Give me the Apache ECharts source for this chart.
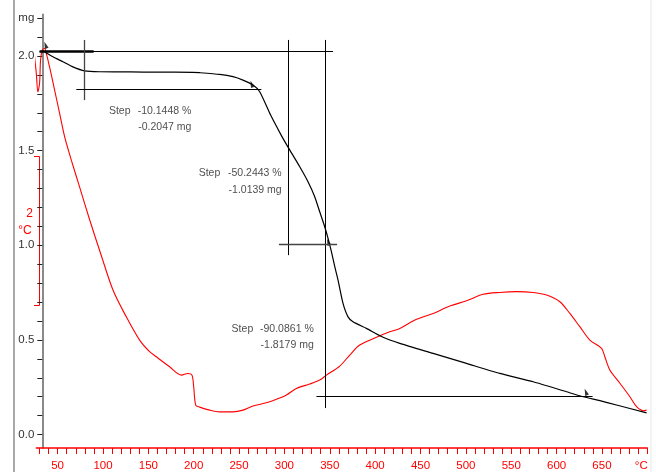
<!DOCTYPE html>
<html><head><meta charset="utf-8">
<script src="https://cdn.jsdelivr.net/npm/echarts@6/dist/echarts.min.js"></script>
<style>html,body{margin:0;padding:0;background:#fff}#c{width:656px;height:472px}</style>
</head><body><div id="c"></div>
<script>
// ---- data ----
const tgTemp = [33.7,44.8,55.8,66.8,79.7,96.3,130,160,198.9,206.6,228.6,243.3,254.3,265.4,272.8,284.8,297.0,305.8,316.9,326.0,333.4,338.9,344.4,348.1,351.8,355.5,359.1,364.6,370.1,375.6,390.4,408.7,427.2,463.9,500.7,537.4,574.2,611.0,629.3,647.7,666.1,699.2];
const tgMass = [2.028,1.996,1.970,1.943,1.922,1.917,1.916,1.915,1.914,1.912,1.903,1.891,1.873,1.847,1.811,1.688,1.577,1.504,1.415,1.336,1.257,1.177,1.098,1.037,0.966,0.887,0.816,0.693,0.622,0.596,0.561,0.514,0.482,0.429,0.376,0.323,0.279,0.226,0.200,0.179,0.156,0.115];

const dtaTemp = [22.9,24.6,26.5,28.2,30.1,31.2,33.1,35.6,37.5,41.1,46.7,52.2,57.7,65.1,74.2,85.3,98.2,111.0,125.7,140.4,151.4,158.8,173.5,186.4,193.7,198.1,200.0,202.2,206.6,217.6,228.6,243.3,254.3,265.4,280.1,291.2,302.2,313.2,327.9,338.9,346.3,361.0,372.0,383.0,401.5,416.1,427.2,445.6,463.9,482.3,500.7,519.0,537.4,555.9,574.2,588.9,603.6,614.6,625.6,636.7,649.6,653.2,658.7,669.8,680.8,688.2,695.5,699.2];
const dtaSignal = [2.095,1.996,1.909,1.811,1.856,1.979,2.032,2.041,2.014,1.943,1.820,1.697,1.574,1.450,1.309,1.135,0.945,0.764,0.622,0.499,0.438,0.411,0.358,0.314,0.323,0.314,0.253,0.156,0.145,0.129,0.120,0.120,0.129,0.151,0.168,0.186,0.209,0.244,0.267,0.288,0.314,0.362,0.420,0.473,0.514,0.543,0.561,0.609,0.640,0.679,0.707,0.741,0.751,0.755,0.751,0.737,0.702,0.640,0.570,0.499,0.455,0.411,0.341,0.271,0.200,0.147,0.126,0.129];

// tick labels
const xTickValues = [30,40,50,60,70,80,90,100,110,120,130,140,150,160,170,180,190,200,210,220,230,240,250,260,270,280,290,300,310,320,330,340,350,360,370,380,390,400,410,420,430,440,450,460,470,480,490,500,510,520,530,540,550,560,570,580,590,600,610,620,630,640,650,660,670,680,690,700];
const xLabelValues = [50,100,150,200,250,300,350,400,450,500,550,600,650,700];
const xLabelTexts = ['50','100','150','200','250','300','350','400','450','500','550','600','650','°C'];
const yTickValues = [0,0.1,0.2,0.3,0.4,0.5,0.6,0.7,0.8,0.9,1.0,1.1,1.2,1.3,1.4,1.5,1.6,1.7,1.8,1.9,2.0,2.1,2.2];
const yLabelValues = [0,0.5,1.0,1.5,2.0,2.2];
const yLabelTexts = ['0.0','0.5','1.0','1.5','2.0','mg'];

// step evaluation construction lines [x1, y1, x2, y2, width]
const stepLines = [
  [30.1,2.027,353.6,2.027,1],
  [30.1,2.027,89.7,2.027,2.5],
  [79.0,2.085,79.0,1.767,1.3],
  [70.6,1.826,274.6,1.826,1],
  [304.0,2.085,304.0,0.948,1],
  [345.0,2.085,345.0,0.140,1],
  [294.0,1.007,358.0,1.007,1.3],
  [335.3,0.200,639.7,0.200,1]
];
const stepMarkers = [[36.7,2.058],[263.9,1.852],[348.3,1.017],[632.3,0.225]];
// [x, y, text, align]
const stepTexts = [
  [106.5,1.711,'Step','left'],[197.4,1.711,'-10.1448 %','right'],[197.4,1.623,'-0.2047 mg','right'],
  [205.5,1.380,'Step','left'],[297.0,1.380,'-50.2443 %','right'],[297.0,1.292,'-1.0139 mg','right'],
  [241.8,0.557,'Step','left'],[332.3,0.557,'-90.0861 %','right'],[332.3,0.473,'-1.8179 mg','right']
];

const FONT = '"Liberation Sans",Arial,sans-serif';
const zip = (a,b) => a.map((v,i)=>[v,b[i]]);
const pick = (vals, texts, v) => { const i = vals.findIndex(t => Math.abs(t - v) < 1e-6); return i < 0 ? '' : texts[i]; };

const chart = echarts.init(document.getElementById('c'), null, {renderer:'canvas'});
chart.setOption({
  animation: false,
  backgroundColor: '#fff',
  grid: {left: 36.3, right: 8.7, top: 14.4, bottom: 24, containLabel: false},
  xAxis: {
    type: 'value', min: 26.5, max: 700,
    axisLine: {show: true, onZero: false, lineStyle: {color: '#ff0000', width: 1.5}},
    axisTick: {show: true, customValues: xTickValues, length: 6, lineStyle: {color: '#ff0000', width: 1}},
    axisLabel: {show: true, customValues: xLabelValues, color: '#ff0000', fontSize: 11.5, fontFamily: FONT, margin: 12,
      formatter: v => { const t = pick(xLabelValues, xLabelTexts, v); return t === '°C' ? '{u|°C}' : t; },
      rich: {u: {color: '#ff0000', fontSize: 11.5, fontFamily: FONT, padding: [0, 12, 0, 0]}}},
    splitLine: {show: false}
  },
  yAxis: {
    type: 'value', min: -0.071, max: 2.22, offset: -6,
    axisLine: {show: true, onZero: false, lineStyle: {color: '#8a8a8a', width: 2}},
    axisTick: {show: true, customValues: yTickValues, length: 5, lineStyle: {color: '#222', width: 1}},
    axisLabel: {show: true, customValues: yLabelValues, color: '#333', fontSize: 11.5, fontFamily: FONT, margin: 8,
      formatter: v => pick(yLabelValues, yLabelTexts, v)},
    splitLine: {show: false}
  },
  series: [
    {
      name: 'DTA', type: 'line', data: zip(dtaTemp, dtaSignal), showSymbol: false, symbol: 'none',
      smooth: 0.3, clip: false, lineStyle: {color: '#ff0000', width: 1.1}, z: 2
    },
    {
      name: 'TG', type: 'line', data: zip(tgTemp, tgMass), showSymbol: false, symbol: 'none',
      smooth: 0.2, clip: false, lineStyle: {color: '#000', width: 1.2}, z: 3,
      markLine: {
        silent: true, symbol: ['none','none'], label: {show: false}, animation: false,
        data: stepLines.map(l => [
          {coord: [l[0], l[1]], lineStyle: {color: l[4] > 1.2 && l[4] < 2 ? '#444' : '#000', width: l[4], type: 'solid'}},
          {coord: [l[2], l[3]]}
        ])
      }
    },
    {
      name: 'markers', type: 'scatter', data: stepMarkers, symbol: 'triangle', symbolSize: [4, 7],
      symbolRotate: 20, itemStyle: {color: '#000'}, z: 4, silent: true
    },
    {
      name: 'texts', type: 'scatter', symbolSize: 0, silent: true, z: 5,
      data: stepTexts.map(t => ({value: [t[0], t[1]], name: t[2],
        label: {show: true, position: t[3] === 'left' ? 'right' : 'left', distance: 0,
          formatter: t[2], color: '#222', fontSize: 10.5, fontFamily: FONT}}))
    }
  ],
  graphic: [
    {type: 'line', shape: {x1: 14, y1: 0, x2: 14, y2: 472}, style: {stroke: '#8c8c8c', lineWidth: 1.5}, silent: true},
    {type: 'line', shape: {x1: 651, y1: 0, x2: 651, y2: 472}, style: {stroke: '#e6e6e6', lineWidth: 1}, silent: true},
    {type: 'polyline', shape: {points: [[34,156.5],[39.5,156.5],[39.5,305.5],[34,305.5]]}, style: {stroke: '#ff0000', lineWidth: 1, fill: null}, silent: true},
    {type: 'text', x: 29.5, y: 213.5, style: {text: '2', fill: '#ff0000', font: '12px ' + FONT, align: 'center', verticalAlign: 'middle'}, silent: true},
    {type: 'text', x: 25, y: 231, style: {text: '°C', fill: '#ff0000', font: '12px ' + FONT, align: 'center', verticalAlign: 'middle'}, silent: true}
  ]
});
</script>
</body></html>
